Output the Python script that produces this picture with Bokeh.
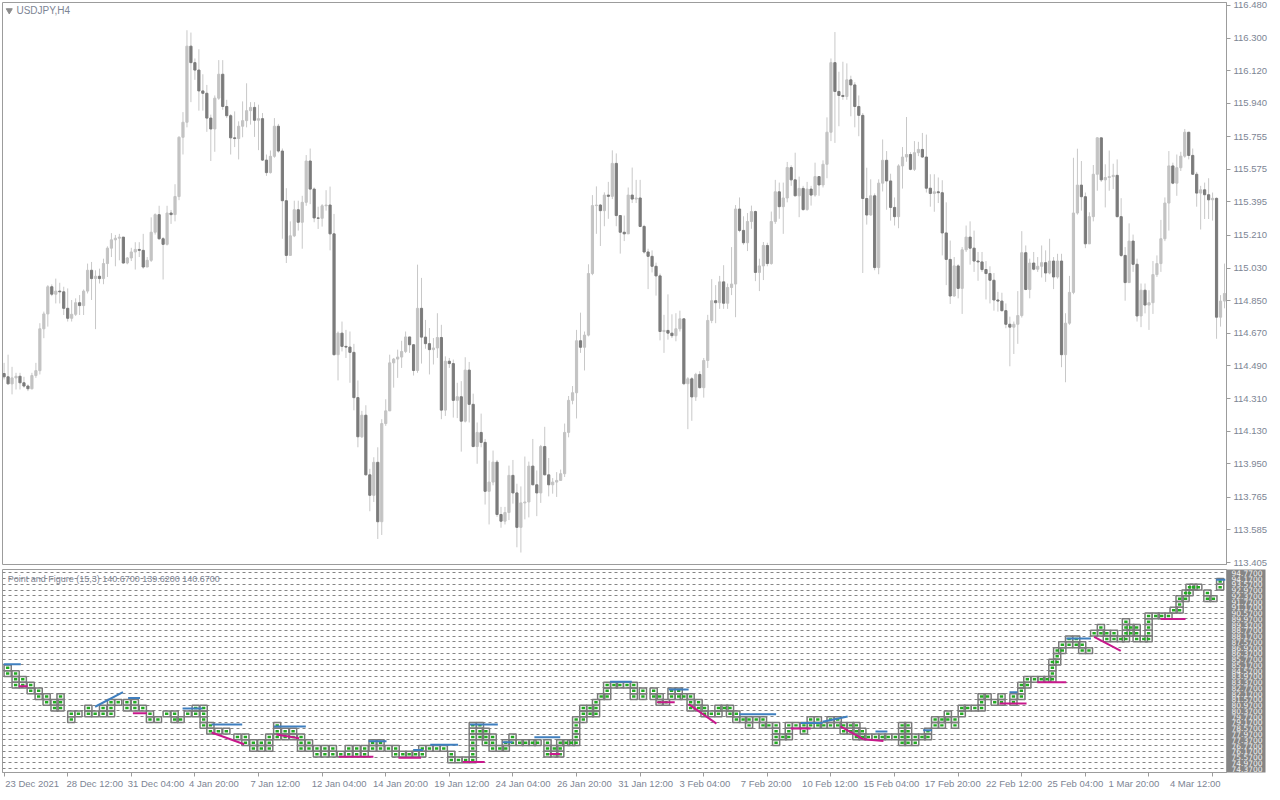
from bokeh.plotting import figure
from bokeh.layouts import column
from bokeh.models import Range1d, FixedTicker, PrintfTickFormatter, Label
from bokeh.core.properties import value
from bokeh.embed import file_html
from bokeh.resources import INLINE

# ---------------- data ----------------
symbol_label = "USDJPY,H4"
pf_label = "Point and Figure (15,3) 140.6700 139.6200 140.6700"

price_ticks = [116.480, 116.300, 116.120, 115.940, 115.755, 115.575, 115.395, 115.210, 115.030,
               114.850, 114.670, 114.490, 114.310, 114.130, 113.950, 113.765, 113.585, 113.405]

time_tick_bars = [0, 16, 32, 48, 64, 80, 96, 112, 128, 144, 160, 176, 192, 208, 224, 240, 256, 272, 288, 304]
time_tick_labels = ["23 Dec 2021", "28 Dec 12:00", "31 Dec 04:00", "4 Jan 20:00", "7 Jan 12:00",
                    "12 Jan 04:00", "14 Jan 20:00", "19 Jan 12:00", "24 Jan 04:00", "26 Jan 20:00",
                    "31 Jan 12:00", "3 Feb 04:00", "7 Feb 20:00", "10 Feb 12:00", "15 Feb 04:00",
                    "17 Feb 20:00", "22 Feb 12:00", "25 Feb 04:00", "1 Mar 20:00", "4 Mar 12:00"]

first_open = 114.448
close = [
    114.430, 114.391, 114.424, 114.433, 114.397, 114.379, 114.364, 114.437, 114.464, 114.695,
    114.777, 114.927, 114.886, 114.903, 114.899, 114.808, 114.753, 114.775, 114.839, 114.823,
    114.903, 115.018, 114.972, 114.985, 114.972, 115.055, 115.140, 115.186, 115.195, 115.201,
    115.058, 115.086, 115.119, 115.133, 115.128, 115.036, 115.073, 115.228, 115.325, 115.192,
    115.161, 115.334, 115.325, 115.425, 115.752, 115.835, 116.255, 116.164, 116.123, 116.008,
    115.995, 115.858, 115.798, 115.968, 116.100, 115.922, 115.871, 115.749, 115.745, 115.813,
    115.844, 115.899, 115.917, 115.846, 115.855, 115.626, 115.557, 115.647, 115.813, 115.676,
    115.402, 115.100, 115.208, 115.352, 115.283, 115.393, 115.621, 115.466, 115.307, 115.305,
    115.374, 115.378, 115.219, 114.552, 114.671, 114.598, 114.594, 114.565, 114.315, 114.099,
    114.218, 113.889, 113.776, 113.958, 113.630, 114.172, 114.242, 114.507, 114.528, 114.539,
    114.570, 114.650, 114.607, 114.465, 114.808, 114.649, 114.613, 114.580, 114.589, 114.647,
    114.246, 114.516, 114.503, 114.300, 114.320, 114.185, 114.467, 114.278, 114.045, 114.123,
    114.068, 113.798, 113.849, 113.959, 113.670, 113.633, 113.681, 113.886, 113.789, 113.599,
    113.734, 113.739, 113.937, 113.834, 113.789, 114.045, 113.889, 113.834, 113.849, 113.858,
    113.895, 114.123, 114.300, 114.342, 114.629, 114.593, 114.660, 115.000, 115.375, 115.378,
    115.347, 115.433, 115.426, 115.608, 115.320, 115.228, 115.219, 115.433, 115.411, 115.417,
    115.260, 115.119, 115.095, 115.040, 114.987, 114.680, 114.686, 114.671, 114.657, 114.695,
    114.750, 114.392, 114.419, 114.319, 114.443, 114.370, 114.520, 114.741, 114.850, 114.839,
    114.954, 114.836, 114.923, 114.942, 115.356, 115.238, 115.170, 115.287, 115.342, 115.006,
    115.042, 115.155, 115.055, 115.287, 115.451, 115.369, 115.417, 115.585, 115.517, 115.429,
    115.470, 115.353, 115.466, 115.433, 115.535, 115.489, 115.603, 115.780, 116.164, 116.005,
    115.983, 115.977, 116.069, 116.041, 115.922, 115.873, 115.414, 115.323, 115.429, 115.033,
    115.499, 115.625, 115.511, 115.365, 115.314, 115.594, 115.643, 115.657, 115.575, 115.667,
    115.685, 115.643, 115.471, 115.442, 115.451, 115.446, 115.224, 115.078, 114.876, 115.042,
    114.918, 115.131, 115.201, 115.140, 115.069, 115.064, 115.022, 115.000, 114.963, 114.854,
    114.848, 114.795, 114.720, 114.704, 114.720, 114.768, 115.115, 114.912, 115.058, 115.024,
    115.040, 115.060, 115.003, 115.069, 114.981, 115.069, 114.552, 114.726, 114.896, 115.334,
    115.488, 115.424, 115.164, 115.314, 115.548, 115.749, 115.517, 115.530, 115.535, 115.542,
    115.314, 115.100, 114.950, 115.179, 115.051, 114.766, 114.908, 114.826, 114.839, 114.994,
    115.055, 115.192, 115.389, 115.594, 115.499, 115.584, 115.648, 115.780, 115.652, 115.548,
    115.444, 115.462, 115.435, 115.407, 115.415, 114.759, 114.848, 114.890]

high = [
    114.507, 114.552, 114.485, 114.452, 114.452, 114.430, 114.388, 114.452, 114.507, 114.726,
    114.790, 114.936, 114.940, 114.972, 114.949, 114.927, 114.918, 114.854, 114.863, 114.881,
    114.912, 115.055, 115.064, 115.018, 115.027, 115.082, 115.150, 115.223, 115.213, 115.219,
    115.201, 115.091, 115.142, 115.173, 115.173, 115.219, 115.091, 115.310, 115.332, 115.374,
    115.201, 115.374, 115.351, 115.493, 115.758, 115.891, 116.343, 116.330, 116.187, 116.238,
    116.100, 116.041, 115.877, 115.983, 116.178, 116.178, 115.959, 115.880, 115.895, 115.840,
    115.950, 116.050, 115.946, 115.946, 115.932, 115.886, 115.657, 115.679, 115.858, 115.826,
    115.690, 115.471, 115.288, 115.402, 115.402, 115.429, 115.654, 115.690, 115.475, 115.369,
    115.383, 115.460, 115.480, 115.329, 114.680, 114.735, 114.689, 114.680, 114.612, 114.410,
    114.242, 114.273, 113.922, 113.986, 114.041, 114.196, 114.306, 114.552, 114.534, 114.580,
    114.629, 114.680, 114.629, 114.611, 115.049, 114.976, 114.744, 114.699, 114.644, 114.781,
    114.717, 114.543, 114.534, 114.525, 114.397, 114.406, 114.538, 114.512, 114.337, 114.178,
    114.227, 114.087, 113.968, 114.023, 113.971, 113.712, 113.712, 113.940, 113.971, 113.840,
    113.825, 113.990, 113.962, 114.087, 113.913, 114.054, 114.154, 113.982, 113.871, 113.904,
    113.918, 114.172, 114.324, 114.379, 114.689, 114.784, 114.680, 115.051, 115.433, 115.481,
    115.384, 115.448, 115.506, 115.680, 115.663, 115.323, 115.320, 115.475, 115.585, 115.517,
    115.517, 115.269, 115.137, 115.128, 115.060, 115.000, 114.772, 114.885, 114.775, 114.781,
    114.795, 114.753, 114.428, 114.428, 114.452, 114.461, 114.534, 114.772, 114.969, 114.936,
    114.987, 115.046, 114.945, 115.146, 115.378, 115.420, 115.316, 115.334, 115.375, 115.347,
    115.082, 115.174, 115.170, 115.342, 115.517, 115.502, 115.502, 115.616, 115.597, 115.667,
    115.535, 115.484, 115.506, 115.484, 115.612, 115.526, 115.625, 115.862, 116.187, 116.333,
    116.114, 116.169, 116.160, 116.092, 116.056, 115.983, 115.886, 115.584, 115.520, 115.442,
    115.520, 115.740, 115.676, 115.551, 115.420, 115.603, 115.698, 115.864, 115.670, 115.731,
    115.727, 115.776, 115.767, 115.548, 115.548, 115.530, 115.515, 115.393, 115.182, 115.091,
    115.051, 115.146, 115.265, 115.288, 115.237, 115.119, 115.119, 115.069, 115.040, 115.003,
    114.899, 114.894, 114.835, 114.762, 114.735, 114.903, 115.234, 115.155, 115.082, 115.119,
    115.091, 115.155, 115.128, 115.192, 115.091, 115.109, 115.109, 114.781, 114.987, 115.639,
    115.689, 115.621, 115.447, 115.338, 115.599, 115.752, 115.749, 115.603, 115.679, 115.606,
    115.630, 115.416, 115.146, 115.277, 115.215, 115.082, 114.945, 114.945, 114.908, 115.069,
    115.100, 115.296, 115.420, 115.676, 115.612, 115.657, 115.672, 115.798, 115.780, 115.690,
    115.561, 115.484, 115.502, 115.526, 115.447, 115.420, 114.881, 115.055]

low = [
    114.415, 114.388, 114.333, 114.360, 114.360, 114.370, 114.351, 114.360, 114.424, 114.443,
    114.643, 114.707, 114.875, 114.835, 114.835, 114.771, 114.735, 114.735, 114.766, 114.771,
    114.771, 114.890, 114.854, 114.693, 114.945, 114.941, 114.981, 115.091, 115.040, 115.073,
    115.055, 115.051, 115.069, 115.022, 115.091, 115.027, 115.036, 115.064, 115.215, 115.186,
    114.967, 115.155, 115.274, 115.288, 115.405, 115.657, 115.807, 115.946, 116.069, 115.899,
    115.899, 115.782, 115.621, 115.672, 115.959, 115.904, 115.858, 115.657, 115.698, 115.630,
    115.752, 115.807, 115.822, 115.754, 115.681, 115.621, 115.539, 115.552, 115.639, 115.667,
    115.192, 115.058, 115.100, 115.201, 115.237, 115.137, 115.374, 115.383, 115.283, 115.246,
    115.259, 115.347, 115.128, 114.547, 114.410, 114.570, 114.534, 114.397, 114.245, 114.041,
    114.092, 113.885, 113.688, 113.739, 113.535, 113.557, 114.159, 114.348, 114.370, 114.424,
    114.479, 114.561, 114.562, 114.437, 114.452, 114.503, 114.585, 114.443, 114.498, 114.534,
    114.196, 114.214, 114.479, 114.205, 114.202, 114.017, 114.178, 114.178, 114.041, 113.950,
    114.041, 113.725, 113.615, 113.831, 113.657, 113.597, 113.615, 113.639, 113.730, 113.489,
    113.460, 113.643, 113.654, 113.831, 113.661, 113.734, 113.886, 113.770, 113.785, 113.767,
    113.858, 113.877, 114.096, 114.278, 114.200, 114.562, 114.465, 114.653, 114.991, 115.219,
    115.152, 115.261, 115.302, 115.411, 115.261, 115.110, 115.179, 115.219, 115.389, 115.389,
    115.256, 115.110, 114.914, 115.006, 114.878, 114.631, 114.562, 114.635, 114.644, 114.626,
    114.680, 114.384, 114.141, 114.187, 114.297, 114.366, 114.315, 114.479, 114.726, 114.726,
    114.805, 114.805, 114.805, 114.881, 114.759, 115.228, 115.159, 115.124, 115.247, 114.958,
    114.903, 114.964, 115.040, 115.049, 115.274, 115.302, 115.219, 115.393, 115.484, 115.426,
    115.311, 115.347, 115.347, 115.375, 115.424, 115.429, 115.475, 115.526, 115.731, 115.721,
    115.813, 115.959, 115.959, 115.868, 115.807, 115.758, 115.003, 115.270, 115.319, 115.018,
    114.996, 115.453, 115.352, 115.292, 115.265, 115.250, 115.469, 115.617, 115.570, 115.566,
    115.648, 115.639, 115.447, 115.369, 115.341, 115.389, 115.100, 114.936, 114.832, 114.872,
    114.863, 114.777, 115.119, 115.049, 115.009, 114.960, 115.009, 114.857, 114.835, 114.795,
    114.790, 114.790, 114.698, 114.488, 114.556, 114.612, 114.757, 114.908, 114.863, 115.018,
    115.009, 114.978, 114.954, 114.996, 114.914, 114.972, 114.483, 114.400, 114.717, 114.886,
    115.325, 115.347, 115.140, 115.164, 115.288, 115.457, 115.506, 115.365, 115.457, 115.466,
    115.310, 115.091, 114.850, 115.009, 115.009, 114.735, 114.704, 114.780, 114.689, 114.777,
    114.981, 115.009, 115.179, 115.237, 115.493, 115.429, 115.566, 115.639, 115.630, 115.544,
    115.369, 115.243, 115.301, 115.301, 115.292, 114.640, 114.707, 114.808]

# Point & Figure panel
pf_base = 74.37
pf_box = 0.6
pf_ticks = [94.77, 94.17, 93.57, 92.97, 92.37, 91.77, 91.17, 90.57, 89.97, 89.37, 88.77, 88.17,
            87.57, 86.97, 86.37, 85.77, 85.17, 84.57, 83.97, 83.37, 82.77, 82.17, 81.57, 80.97,
            80.37, 79.77, 79.17, 78.57, 77.97, 77.37, 76.77, 76.17, 75.57, 74.97, 74.37]

pf_col_bar = [
    0.9, 2.9, 4.7, 6.7, 8.7, 10.7, 12.7, 14.2, 16.9, 18.7,
    21.2, 22.9, 24.9, 26.9, 28.7, 30.9, 32.9, 34.9, 36.7, 38.7,
    40.9, 42.9, 44.4, 46.2, 48.2, 50.2, 51.9, 53.9, 55.9, 58.7,
    60.7, 62.7, 64.7, 66.7, 68.7, 70.7, 72.7, 74.7, 76.7, 78.7,
    80.7, 82.7, 84.7, 86.7, 88.7, 90.7, 92.7, 94.7, 96.7, 98.5,
    100.3, 101.9, 103.5, 105.2, 107.0, 108.8, 110.6, 112.5, 114.3, 116.1,
    117.9, 119.7, 121.2, 122.9, 124.7, 126.2, 127.9, 129.7, 131.2, 132.9,
    134.2, 136.7, 138.4, 139.9, 141.4, 142.7, 143.9, 145.7, 147.4, 148.9,
    150.2, 151.7, 153.4, 154.9, 156.7, 158.4, 160.7, 163.4, 164.9, 166.5,
    167.9, 169.7, 171.0, 172.7, 174.7, 176.2, 177.9, 179.7, 181.2, 182.6,
    184.2, 185.9, 187.4, 189.2, 190.9, 192.4, 194.2, 195.9, 197.4, 199.2,
    201.2, 202.9, 204.7, 206.2, 207.9, 209.7, 211.2, 212.9, 214.4, 215.9,
    217.4, 219.2, 220.9, 222.4, 224.2, 225.9, 227.4, 229.2, 230.9, 232.4,
    234.2, 235.9, 237.4, 239.2, 240.9, 242.4, 244.2, 245.9, 247.4, 249.2,
    250.9, 253.9, 255.9, 257.4, 259.2, 260.9, 262.4, 263.7, 264.9, 266.2,
    267.9, 269.7, 271.2, 272.9, 274.2, 275.9, 277.4, 279.2, 280.9, 282.2,
    283.4, 284.9, 286.7, 287.9, 289.7, 291.2, 292.9, 294.2, 295.7, 297.2,
    298.2, 299.2, 300.4, 302.7, 304.2, 305.9]
pf_col_lo = [
    16, 14, 14, 13, 12, 11, 10, 10, 8, 9,
    9, 9, 9, 9, 11, 10, 10, 10, 8, 8,
    9, 8, 8, 9, 9, 7, 6, 6, 6, 5,
    4, 3, 3, 3, 5, 5, 5, 3, 3, 2,
    2, 2, 2, 2, 2, 2, 3, 3, 3, 2,
    2, 2, 2, 2, 3, 3, 3, 1, 1, 1,
    1, 5, 4, 3, 3, 3, 4, 4, 4, 4,
    4, 2, 2, 2, 4, 4, 4, 8, 9, 9,
    12, 12, 14, 14, 14, 12, 12, 12, 11, 11,
    12, 12, 12, 10, 10, 9, 9, 9, 10, 9,
    8, 8, 7, 8, 7, 7, 4, 5, 5, 7,
    6, 7, 7, 7, 7, 7, 6, 6, 5, 5,
    5, 5, 5, 5, 5, 4, 4, 4, 5, 5,
    7, 7, 8, 7, 9, 10, 10, 10, 12, 11,
    11, 11, 12, 14, 15, 15, 15, 15, 18, 20,
    21, 21, 20, 20, 23, 23, 22, 22, 22, 22,
    23, 22, 22, 22, 26, 26, 26, 27, 27, 29,
    30, 31, 31, 29, 29, 31]
pf_col_hi = [
    18, 17, 16, 15, 14, 13, 12, 13, 10, 10,
    11, 10, 11, 12, 12, 12, 12, 11, 10, 9,
    10, 10, 9, 10, 11, 11, 8, 7, 7, 6,
    6, 5, 5, 6, 8, 7, 7, 6, 5, 4,
    4, 4, 3, 4, 4, 4, 5, 5, 4, 4,
    3, 3, 3, 4, 4, 4, 4, 3, 2, 2,
    8, 8, 7, 6, 4, 5, 6, 5, 5, 5,
    5, 5, 4, 5, 5, 5, 9, 11, 11, 12,
    13, 15, 15, 15, 15, 15, 14, 14, 13, 12,
    14, 14, 13, 13, 12, 11, 10, 11, 11, 11,
    10, 9, 9, 9, 9, 8, 8, 6, 8, 8,
    8, 9, 9, 8, 9, 9, 8, 8, 8, 7,
    6, 6, 6, 6, 6, 8, 8, 6, 6, 7,
    9, 9, 10, 9, 11, 11, 11, 13, 13, 12,
    13, 13, 15, 16, 16, 16, 16, 19, 21, 22,
    23, 23, 22, 21, 24, 25, 24, 24, 23, 26,
    25, 25, 23, 27, 27, 27, 27, 28, 30, 31,
    32, 32, 32, 31, 30, 33]

# resistance (blue) and support (magenta) segments: bar index and P&F value
blue_x0 = [-0.1, 22.9, 31.2, 44.9, 52.2, 67.9, 91.7, 102.9, 107.2, 117.2, 125.4, 133.4,
           152.4, 167.2, 184.9, 200.4, 205.9, 219.2, 231.2, 252.9, 267.2, 304.9]
blue_x1 = [4.2, 29.9, 34.2, 49.9, 59.9, 75.9, 96.2, 105.4, 114.2, 124.2, 127.9, 139.9,
           157.9, 172.2, 194.2, 205.9, 212.2, 222.2, 233.4, 254.9, 273.4, 307.2]
blue_y0 = [85.25, 80.81, 81.72, 80.64, 78.95, 78.74, 77.22, 76.30, 76.84, 78.95, 77.12, 77.62,
           83.42, 82.61, 80.03, 79.12, 79.25, 78.23, 78.37, 82.33, 87.93, 94.03]
blue_y1 = [85.25, 82.33, 81.72, 80.64, 78.95, 78.74, 77.22, 76.30, 76.84, 78.95, 77.12, 77.62,
           83.42, 82.61, 80.03, 79.12, 79.79, 78.23, 78.37, 82.33, 87.93, 94.03]

mag_x0 = [3.7, 32.4, 52.2, 68.5, 84.2, 99.2, 115.4, 137.2, 164.2, 172.2, 197.9, 210.4, 216.2,
          250.4, 259.9, 274.2, 290.9]
mag_x1 = [5.9, 35.9, 60.4, 74.2, 92.9, 104.9, 120.9, 139.9, 168.7, 179.2, 202.9, 216.2, 221.2,
          257.2, 267.2, 280.9, 297.2]
mag_y0 = [82.94, 80.14, 78.13, 77.93, 75.59, 75.49, 75.05, 75.90, 81.29, 81.08, 78.54, 78.77, 77.42,
          81.15, 83.35, 88.10, 89.96]
mag_y1 = [82.94, 80.14, 76.91, 77.52, 75.59, 75.49, 75.05, 75.90, 81.29, 79.05, 78.54, 77.42, 77.25,
          81.15, 83.35, 86.64, 89.96]

# ---------------- styling ----------------
FONT = "Liberation Sans"
TXT = "#7d8594"
FRAME = "#9c9c9c"
BULL = "#c3c3c3"
BEAR = "#7b7b7b"
WICK = "#c8c8c8"

W = 1272
BORDER_L, BORDER_R = 2, 46
X0, X1 = -0.4, 307.5
FRAME_W = W - BORDER_L - BORDER_R
PX_PER_BAR = FRAME_W / (X1 - X0)

n = min(len(close), len(high), len(low))
idx = list(range(n))
opens = [first_open] + close[:n - 1]
body_top = [max(o, c) for o, c in zip(opens, close[:n])]
body_bot = [min(o, c) for o, c in zip(opens, close[:n])]
body_col = [BULL if c >= o else BEAR for o, c in zip(opens, close[:n])]
wick_hi = [max(h, t) for h, t in zip(high[:n], body_top)]
wick_lo = [min(l, b) for l, b in zip(low[:n], body_bot)]

xr = Range1d(X0, X1)

# ---------------- top panel ----------------
p1 = figure(width=W, height=569, x_range=xr, y_range=Range1d(113.394, 116.496),
            output_backend="svg", toolbar_location=None,
            min_border_left=BORDER_L, min_border_right=BORDER_R, min_border_top=2, min_border_bottom=5,
            x_axis_location=None, y_axis_location="right")
p1.xgrid.grid_line_color = None
p1.ygrid.grid_line_color = None
p1.outline_line_color = FRAME
p1.background_fill_color = "white"

p1.segment(x0=idx, y0=wick_lo, x1=idx, y1=wick_hi, line_color=WICK, line_width=1)
p1.vbar(x=idx, width=0.55, top=body_top, bottom=body_bot, fill_color=body_col,
        line_color=body_col, line_width=1)

ya = p1.yaxis[0]
ya.ticker = FixedTicker(ticks=price_ticks)
ya.formatter = PrintfTickFormatter(format="%.3f")
ya.major_tick_out = 4
ya.major_tick_in = 0
ya.minor_tick_line_color = None
ya.axis_line_color = FRAME
ya.major_tick_line_color = FRAME
ya.major_label_standoff = 3
ya.major_label_text_font = FONT
ya.major_label_text_font_size = "9.5px"
ya.major_label_text_color = TXT

p1.scatter(x=[1.3], y=[116.452], marker="inverted_triangle", size=6, color="#8c8c8c")
p1.add_layout(Label(x=3.1, y=116.452, text=symbol_label, text_font=FONT, text_font_size="10px",
                    text_color=TXT, text_baseline="middle", text_align="left"))

# ---------------- bottom panel ----------------
p2 = figure(width=W, height=208, x_range=xr, y_range=Range1d(73.96, 95.11),
            output_backend="svg", toolbar_location=None,
            min_border_left=BORDER_L, min_border_right=BORDER_R, min_border_top=0, min_border_bottom=5,
            y_axis_location="right")
p2.xgrid.grid_line_color = None
p2.outline_line_color = FRAME

ya2 = p2.yaxis[0]
ya2.ticker = FixedTicker(ticks=pf_ticks)
ya2.formatter = PrintfTickFormatter(format="%.4f")
ya2.major_tick_out = 0
ya2.major_tick_in = 0
ya2.minor_tick_line_color = None
ya2.axis_line_color = FRAME
ya2.major_label_standoff = 5
ya2.major_label_text_font = "DejaVu Sans"
ya2.major_label_text_font_size = "7.5px"
ya2.major_label_text_color = "#f2f2f2"
try:
    ya2.background_fill_color = "#858585"
except Exception:
    pass

p2.ygrid.grid_line_color = "#858585"
p2.ygrid.grid_line_dash = "3 3"
p2.ygrid.grid_line_width = 1

# time axis tick marks at the bars; the labels sit in a strip below
xa = p2.xaxis[0]
xa.ticker = FixedTicker(ticks=time_tick_bars)
xa.major_tick_out = 4
xa.major_tick_in = 0
xa.major_tick_line_color = FRAME
xa.minor_tick_line_color = None
xa.axis_line_color = FRAME
xa.major_label_standoff = 0
xa.major_label_text_font_size = "1px"
xa.major_label_text_color = None

# P&F boxes
bx, by = [], []
for b, lo, hi in zip(pf_col_bar, pf_col_lo, pf_col_hi):
    for j in range(lo, hi):
        bx.append(b)
        by.append(pf_base + pf_box * (j + 0.5))
p2.rect(x=bx, y=by, width=1.8, height=pf_box, fill_color=None, line_color="#7a7a7a", line_width=1.5)
p2.rect(x=bx, y=by, width=0.85, height=0.26, fill_color="#22aa22", line_color=None)

p2.segment(x0=blue_x0, y0=blue_y0, x1=blue_x1, y1=blue_y1, line_color="#3f7fbf", line_width=2)
p2.segment(x0=mag_x0, y0=mag_y0, x1=mag_x1, y1=mag_y1, line_color="#c8198c", line_width=2)

p2.add_layout(Label(x=0.9, y=94.17, text=pf_label, text_font=FONT, text_font_size="9px",
                    text_color=TXT, text_baseline="middle", text_align="left"))

# ---------------- time-label strip ----------------
p3 = figure(width=W, height=15, x_range=Range1d(X0, X0 + (W - BORDER_L) / PX_PER_BAR),
            y_range=Range1d(0, 1), output_backend="svg", toolbar_location=None,
            min_border_left=BORDER_L, min_border_right=0, min_border_top=0, min_border_bottom=0,
            x_axis_location=None, y_axis_location=None)
p3.outline_line_color = None
p3.xgrid.grid_line_color = None
p3.ygrid.grid_line_color = None
p3.text(x=[b + 0.3 for b in time_tick_bars], y=[0.62] * len(time_tick_bars), text=time_tick_labels,
        text_align="left", text_baseline="middle", text_font=value(FONT),
        text_font_size=value("9.5px"), text_color=TXT)

layout = column(p1, p2, p3, spacing=0)
open("out.html", "w").write(file_html(layout, INLINE))
